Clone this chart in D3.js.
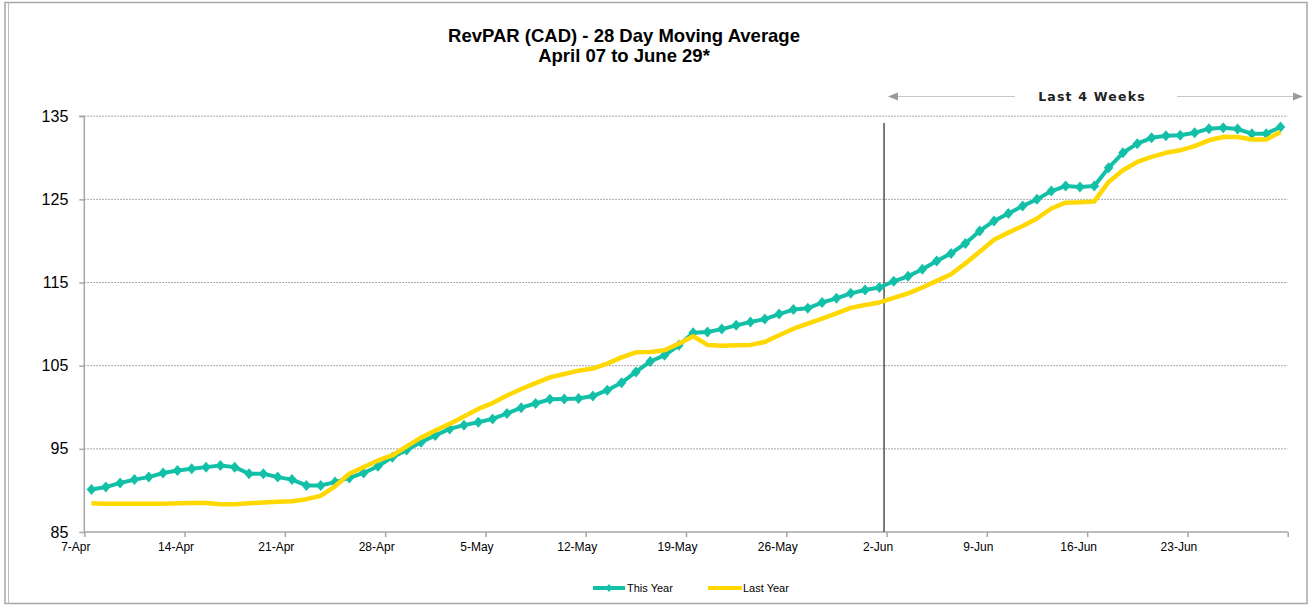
<!DOCTYPE html>
<html>
<head>
<meta charset="utf-8">
<script src="https://cdn.jsdelivr.net/npm/d3@7"></script>
<style>
  body { margin: 0; background: #fff; }
  svg { display: block; font-family: "Liberation Sans", Arial, sans-serif; }
</style>
</head>
<body>
<svg id="revpar-svg" width="1315" height="608"></svg>
<script>
// one point per day, 7-Apr .. 29-Jun
const startDay = new Date(2013, 3, 7);
const endDay = new Date(2013, 5, 30);
const days = d3.timeDay.range(startDay, endDay);

const thisYear = [
  90.1, 90.4, 90.9, 91.3, 91.6, 92.1, 92.4, 92.6, 92.8, 93.0,
  92.8, 92.0, 92.0, 91.6, 91.3, 90.6, 90.6, 91.0, 91.5, 92.1,
  92.9, 94.0, 94.85, 95.8, 96.6, 97.4, 97.85, 98.2, 98.6, 99.25,
  99.95, 100.45, 100.95, 101.0, 101.05, 101.35, 102.05, 102.95, 104.25, 105.5,
  106.25, 107.45, 108.95, 109.05, 109.4, 109.85, 110.25, 110.6, 111.2, 111.75,
  111.9, 112.6, 113.1, 113.7, 114.1, 114.4, 115.15, 115.75, 116.6, 117.6,
  118.5, 119.7, 121.2, 122.4, 123.3, 124.2, 125.0, 126.0, 126.6, 126.5,
  126.6, 128.8, 130.6, 131.7, 132.4, 132.65, 132.7, 133.0, 133.5, 133.6,
  133.45, 132.9, 132.9, 133.7
];

const lastYear = [
  88.45, 88.4, 88.4, 88.4, 88.4, 88.4, 88.45, 88.5, 88.5, 88.35,
  88.35, 88.45, 88.55, 88.65, 88.7, 88.95, 89.35, 90.5, 92.0, 92.8,
  93.6, 94.2, 95.3, 96.35, 97.2, 98.0, 98.9, 99.8, 100.5, 101.4,
  102.2, 102.9, 103.6, 104.0, 104.4, 104.65, 105.25, 106.0, 106.6, 106.65,
  106.85, 107.65, 108.55, 107.5, 107.4, 107.45, 107.5, 107.85, 108.65, 109.45,
  110.05, 110.65, 111.3, 111.95, 112.3, 112.6, 113.15, 113.7, 114.4, 115.2,
  116.0, 117.3, 118.7, 120.15, 121.0, 121.8, 122.7, 123.9, 124.6, 124.65,
  124.75, 127.1, 128.5, 129.5, 130.1, 130.6, 130.9, 131.4, 132.1, 132.5,
  132.5, 132.2, 132.2, 133.1
];

const xTickLabels = ["7-Apr", "14-Apr", "21-Apr", "28-Apr", "5-May", "12-May", "19-May", "26-May", "2-Jun", "9-Jun", "16-Jun", "23-Jun", ""];
const yTicks = [85, 95, 105, 115, 125, 135];
const seriesNames = ["This Year", "Last Year"];
const titleLines = ["RevPAR (CAD) - 28 Day Moving Average", "April 07 to June 29*"];
const periodLabel = "Last 4 Weeks";
const periodStart = new Date(2013, 5, 2);

class RevparDrawer {
  constructor() {
    this.left = 84.3;
    this.right = 1287.7;
    this.top = 116.2;
    this.bottom = 532;
    this.teal = "#12c0a8";
    this.yellow = "#ffd800";

    this.xScale = d3.scaleTime().domain([startDay, endDay]).range([this.left, this.right]);
    this.yScale = d3.scaleLinear().domain([85, 135]).range([this.bottom, this.top]);
    // points sit in the middle of their day
    this.lineDescriber = d3.line()
      .x((d, i) => this.xScale(d3.timeHour.offset(days[i], 12)))
      .y((d) => this.yScale(d));
  }

  draw() {
    const svg = d3.select("#revpar-svg");

    svg.append("rect").attr("x", 5).attr("y", 2.5).attr("width", 1302).attr("height", 601)
      .attr("fill", "none").attr("stroke", "#a6a6a6").attr("stroke-width", 1.5);
    svg.append("line").attr("x1", 8.5).attr("x2", 8.5).attr("y1", 2.5).attr("y2", 603.5)
      .attr("stroke", "#bdbdbd").attr("stroke-width", 1);

    this.drawTitle(svg);
    this.drawAxes(svg);
    this.drawPeriod(svg);
    this.drawLines(svg);
    this.drawLegend(svg);
  }

  drawTitle(svg) {
    svg.append("text").attr("x", 624).attr("y", 42).attr("text-anchor", "middle")
      .attr("font-size", 18.5).attr("font-weight", "bold").text(titleLines[0]);
    svg.append("text").attr("x", 624).attr("y", 62).attr("text-anchor", "middle")
      .attr("font-size", 18.5).attr("font-weight", "bold").text(titleLines[1]);
  }

  drawAxes(svg) {
    const grid = svg.append("g");
    grid.selectAll("line").data(yTicks.slice(1)).enter().append("line")
      .attr("x1", this.left).attr("x2", this.right)
      .attr("y1", (d) => this.yScale(d)).attr("y2", (d) => this.yScale(d))
      .attr("stroke", "#8c8c8c").attr("stroke-width", 1).attr("stroke-dasharray", "1.5,1.5");

    const yAxis = d3.axisLeft(this.yScale).tickValues(yTicks).tickSize(5).tickPadding(11);
    const yAxisGroup = svg.append("g").attr("transform", `translate(${this.left}, 0)`).call(yAxis);
    yAxisGroup.select(".domain").attr("stroke", "#a6a6a6").attr("stroke-width", 1.5)
      .attr("d", `M-5,${this.top}H0V${this.bottom}`);
    yAxisGroup.selectAll(".tick line").attr("stroke", "#a6a6a6").attr("stroke-width", 1.5);
    yAxisGroup.selectAll(".tick text").attr("font-size", 16).attr("fill", "#000")
      .attr("font-family", "Liberation Sans, Arial, sans-serif");

    const xTicks = d3.timeDay.range(startDay, d3.timeDay.offset(endDay, 1), 7);
    const xAxis = d3.axisBottom(this.xScale).tickValues(xTicks).tickSize(5).tickPadding(5)
      .tickFormat((d, i) => xTickLabels[i]);
    const xAxisGroup = svg.append("g").attr("transform", `translate(0, ${this.bottom})`).call(xAxis);
    xAxisGroup.select(".domain").attr("stroke", "#a6a6a6").attr("stroke-width", 1.5)
      .attr("d", `M${this.left},0H${this.right}`);
    xAxisGroup.selectAll(".tick line").attr("stroke", "#a6a6a6").attr("stroke-width", 1.5);
    xAxisGroup.selectAll(".tick text").attr("font-size", 12).attr("fill", "#000").attr("x", -9)
      .attr("font-family", "Liberation Sans, Arial, sans-serif");
  }

  drawPeriod(svg) {
    const x0 = this.xScale(periodStart) - 2.5;
    svg.append("line").attr("x1", x0).attr("x2", x0).attr("y1", 123).attr("y2", this.bottom)
      .attr("stroke", "#5a5a5a").attr("stroke-width", 1.6);

    const y = 96.5;
    const g = svg.append("g");
    g.append("line").attr("x1", 896).attr("x2", 1015).attr("y1", y).attr("y2", y)
      .attr("stroke", "#c8c8c8").attr("stroke-width", 1.2);
    g.append("path").attr("d", `M888,${y}L898,${y - 4}L898,${y + 4}Z`).attr("fill", "#9a9a9a");
    g.append("line").attr("x1", 1177).attr("x2", 1295).attr("y1", y).attr("y2", y)
      .attr("stroke", "#c8c8c8").attr("stroke-width", 1.2);
    g.append("path").attr("d", `M1303,${y}L1293,${y - 4}L1293,${y + 4}Z`).attr("fill", "#9a9a9a");
    g.append("text").attr("x", 1092).attr("y", y + 4.5).attr("text-anchor", "middle")
      .attr("font-family", "DejaVu Sans, Verdana, sans-serif").attr("font-size", 12.5)
      .attr("font-weight", "bold").attr("letter-spacing", 1.2).attr("fill", "#222").text(periodLabel);
  }

  drawLines(svg) {
    const graph = svg.append("g");
    graph.append("path").datum(thisYear).attr("fill", "none").attr("stroke", this.teal)
      .attr("stroke-width", 4).attr("stroke-linejoin", "round").attr("d", this.lineDescriber);

    graph.append("g").selectAll("path").data(thisYear).enter().append("path")
      .attr("transform", (d, i) => `translate(${this.xScale(d3.timeHour.offset(days[i], 12))}, ${this.yScale(d)})`)
      .attr("d", "M0,-5.5L4.8,0L0,5.5L-4.8,0Z").attr("fill", this.teal);

    graph.append("path").datum(lastYear).attr("fill", "none").attr("stroke", this.yellow)
      .attr("stroke-width", 4.5).attr("stroke-linejoin", "round").attr("d", this.lineDescriber);
  }

  drawLegend(svg) {
    const y = 588;
    const g = svg.append("g").attr("font-size", 11).attr("fill", "#000");
    g.append("line").attr("x1", 593).attr("x2", 625).attr("y1", y).attr("y2", y)
      .attr("stroke", this.teal).attr("stroke-width", 4);
    g.append("path").attr("transform", `translate(609, ${y})`).attr("d", "M0,-4L3.5,0L0,4L-3.5,0Z").attr("fill", this.teal);
    g.append("text").attr("x", 627).attr("y", y + 4).text(seriesNames[0]);
    g.append("line").attr("x1", 708).attr("x2", 742).attr("y1", y).attr("y2", y)
      .attr("stroke", this.yellow).attr("stroke-width", 4);
    g.append("text").attr("x", 743).attr("y", y + 4).text(seriesNames[1]);
  }
}

new RevparDrawer().draw();
</script>
</body>
</html>
